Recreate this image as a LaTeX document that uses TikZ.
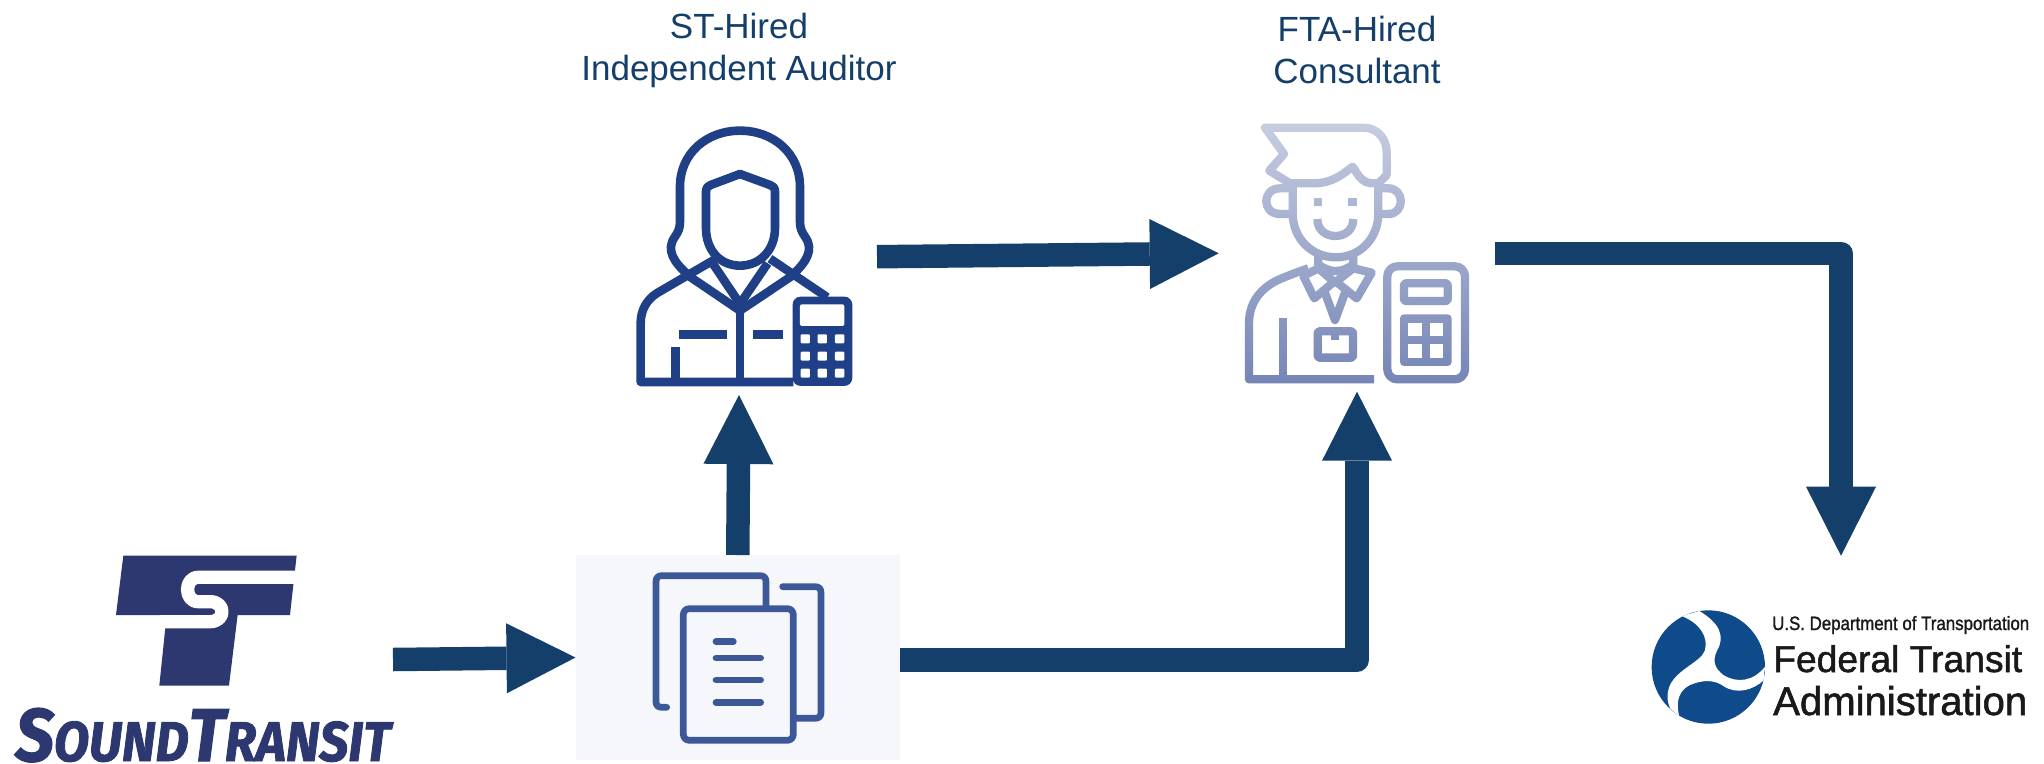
\documentclass[tikz,border=0pt]{standalone}
\usepackage{fontspec}
\setmainfont{Liberation Sans}
\newfontfamily\stfont[BoldItalicFeatures={FakeBold=1.6}]{Fira Sans}
\newfontfamily\ftafont[FakeBold=1.4]{Liberation Sans}
\usetikzlibrary{arrows.meta,fadings}
\definecolor{arrowblue}{HTML}{153F6B}
\definecolor{audblue}{HTML}{1F3F87}
\definecolor{docblue}{HTML}{3D5898}
\definecolor{docbg}{HTML}{F6F7FB}
\definecolor{stblue}{HTML}{2D3870}
\definecolor{ftablue}{HTML}{0F4A8A}
\definecolor{conblue}{HTML}{7484B5}
\tikzfading[name=icongrad, top color=transparent!39, bottom color=transparent!100]
\tikzset{
  region/.style={inner sep=0pt, outer sep=0pt, minimum width=#1},
  conn/.style={draw=arrowblue, line width=23.5pt, line join=round, -{Triangle[length=69pt,width=70pt,line width=0pt]}},
  title/.style={text=arrowblue, font=\fontsize{35}{42}\selectfont, align=center, inner sep=0pt},
  icona/.style={draw=audblue, line width=8.6pt, line join=round},
  iconc/.style={draw=conblue, line width=8.3pt, line join=round},
  icond/.style={draw=docblue, line width=6.7pt, line cap=round, line join=round},
}
\begin{document}
\begin{tikzpicture}[x=1pt,y=-1pt]
\useasboundingbox (0,0) rectangle (2044,763);
\fill[white] (0,0) rectangle (2044,763);

% region nodes
\node[region=380pt, minimum height=207pt] (st) at (203,659.5) {};
\node[region=324.5pt, minimum height=205pt, fill=docbg] (docs) at (737.75,657.5) {};
\node[region=276pt, minimum height=276.6pt] (aud) at (739,256.7) {};
\node[region=276.6pt, minimum height=276.7pt] (con) at (1357,253.3) {};
\node[region=380pt, minimum height=170pt] (fta) at (1841,640.7) {};

% titles
\node[title] (t1) at (739,50) {ST-Hired\\Independent Auditor};
\node[title] (t2) at (1357,50) {FTA-Hired\\Consultant};

% auditor icon
\begin{scope}[shift={(600,100)},x=0.3333pt,y=-0.3333pt]
\draw[icona] (262,522) .. controls (225,490) and (195,450) .. (225,410) .. controls (235,395) and (240,385) .. (240,365) -- (240,260) .. controls (240,160) and (320,92) .. (420,92) .. controls (520,92) and (600,160) .. (600,260) -- (600,365) .. controls (600,385) and (605,395) .. (615,410) .. controls (645,450) and (615,490) .. (580,522);
\draw[icona] (318,275) .. controls (318,262) and (325,258) .. (332,255) -- (420,222) -- (510,255) .. controls (518,258) and (525,262) .. (525,275) -- (525,385) .. controls (525,450) and (480,497) .. (420,497) .. controls (360,497) and (318,450) .. (318,385) -- cycle;
\draw[icona] (345,478) -- (170,580) .. controls (140,600) and (122,630) .. (122,670) -- (122,846) -- (580,846);
\draw[icona] (510,476) -- (682,592);
\draw[icona] (262,525) -- (420,632) -- (580,525);
\draw[icona] (338,490) -- (420,612) -- (503,490);
\draw[icona] (420,632) -- (420,846);
\draw[icona] (238,703) -- (382,703);
\draw[icona] (460,703) -- (550,703);
\draw[icona] (227,742) -- (227,846);
\fill[audblue,rounded corners=8pt] (578,590) rectangle (757,858);
\fill[white,rounded corners=2pt] (600,613) rectangle (733,678);
\foreach \yy in {703,755,806} \foreach \xx in {602,653,705}
  \fill[white,rounded corners=1pt] (\xx,\yy) rectangle ++(28,27);
\end{scope}

% consultant icon
\begin{scope}[shift={(1210,100)},x=0.3333pt,y=-0.3333pt]
\draw[iconc] (165,83) -- (460,83) .. controls (505,83) and (530,120) .. (530,155) -- (530,225) -- (505,250) -- (490,250) .. controls (455,250) and (445,225) .. (428,200) .. controls (395,225) and (365,250) .. (310,250) -- (240,250) -- (178,212) -- (222,162) -- cycle;
\draw[iconc] (248,265) -- (210,265) .. controls (155,265) and (155,342) .. (210,342) -- (248,342);
\draw[iconc] (510,265) -- (535,265) .. controls (585,265) and (585,342) .. (535,342) -- (510,342);
\draw[iconc] (248,250) -- (248,340) .. controls (248,415) and (305,472) .. (378,472) .. controls (450,472) and (505,415) .. (505,340) -- (505,240);
\fill[conblue] (312,293) rectangle (337,317);
\fill[conblue] (415,293) rectangle (440,317);
\draw[iconc] (322,357) .. controls (322,425) and (430,425) .. (430,357);
\draw[iconc] (325,465) -- (325,495) .. controls (345,505) and (355,513) .. (378,513) .. controls (400,513) and (410,505) .. (430,495) -- (430,465);
\draw[iconc] (280,528) -- (325,505) -- (372,545) -- (313,595) -- cycle;
\draw[iconc] (430,505) -- (485,518) -- (440,595) -- (378,545) -- cycle;
\draw[iconc] (340,565) -- (375,660) -- (410,565);
\draw[iconc,rounded corners=2pt] (323,694) rectangle (429,773);
\fill[conblue] (362,692) rectangle (388,720);
\draw[iconc] (295,505) .. controls (265,515) and (240,525) .. (215,535) .. controls (155,560) and (117,605) .. (117,670) -- (117,838) -- (492,838);
\draw[iconc] (220,655) -- (220,838);
\draw[iconc,rounded corners=10pt] (532,499) rectangle (765,838);
\draw[iconc,rounded corners=2pt] (582,550) rectangle (713,603);
\fill[conblue,rounded corners=4pt] (570,643) rectangle (725,798);
\foreach \xx/\yy in {595/668,660/668,595/733,660/733}
  \fill[white] (\xx,\yy) rectangle ++(40,40);
\end{scope}
\fill[white,path fading=icongrad] (1240,118) rectangle (1475,388);

% documents icon
\begin{scope}[shift={(570,550)},x=0.3333pt,y=-0.3333pt]
\draw[icond] (290,472) -- (275,472) .. controls (263,472) and (258,465) .. (258,455) -- (258,95) .. controls (258,83) and (265,77) .. (275,77) -- (570,77) .. controls (582,77) and (588,83) .. (588,95) -- (588,172);
\draw[icond] (638,110) -- (735,110) .. controls (747,110) and (753,116) .. (753,128) -- (753,488) .. controls (753,499) and (747,505) .. (735,505) -- (675,505);
\draw[icond,rounded corners=6pt] (340,176) rectangle (670,571);
\draw[icond] (438,275) -- (490,275);
\draw[icond] (438,324) -- (572,324);
\draw[icond] (438,390) -- (572,390);
\draw[icond] (438,457) -- (572,457);
\end{scope}

% Sound Transit logo
\begin{scope}[shift={(0,540)},x=0.3333pt,y=-0.3333pt]
\fill[stblue] (370,47) -- (890,47) -- (870,225) -- (713,225) -- (687,437) -- (478,437) -- (500,225) -- (348,225) -- cycle;
\draw[white,line width=13.3pt,line join=round] (900,112) -- (595,112) .. controls (552,112) and (552,185) .. (595,185) -- (630,185) .. controls (678,185) and (678,245) .. (630,245) -- (480,245);
\end{scope}
\node[anchor=base,inner sep=0pt,text=stblue,font=\stfont\bfseries\itshape] (stname) at (203,761)
  {\resizebox{375pt}{53pt}{\fontsize{80}{80}\selectfont S\fontsize{60}{60}\selectfont OUND\fontsize{80}{80}\selectfont T\fontsize{60}{60}\selectfont RANSIT}};

% FTA logo
\fill[ftablue] (1708.3,667) circle (56.7pt);
\begin{scope}
\clip (1708.3,667) circle (56.7pt);
\begin{scope}[shift={(1640,600)},x=0.3333pt,y=-0.3333pt]
\fill[white] (125,48) .. controls (180,70) and (205,110) .. (195,150) .. controls (185,185) and (115,205) .. (90,255) .. controls (80,280) and (80,300) .. (90,325) -- (118,350) .. controls (105,300) and (120,270) .. (150,255) .. controls (190,238) and (225,240) .. (250,258) .. controls (290,285) and (340,270) .. (372,240) -- (375,200) .. controls (340,245) and (290,250) .. (250,225) .. controls (225,205) and (215,185) .. (232,150) .. controls (255,110) and (240,70) .. (178,33) -- cycle;
\end{scope}
\end{scope}
\node[anchor=base west,inner sep=0pt,text=black!90] (f1) at (1772,630) {\resizebox{257pt}{14pt}{\ftafont\fontsize{36}{36}\selectfont U.S. Department of Transportation}};
\node[anchor=base west,inner sep=0pt,text=black!90] (f2) at (1773,672) {\resizebox{249pt}{!}{\ftafont\fontsize{36}{36}\selectfont Federal Transit}};
\node[anchor=base west,inner sep=0pt,text=black!90] (f3) at (1773,715) {\resizebox{254pt}{!}{\ftafont\fontsize{36}{36}\selectfont Administration}};

% connectors
\draw[conn] (st.east) -- (docs.west);
\draw[conn] (docs.north) -- (aud.south);
\draw[conn] (aud.east) -- (con.west);
\draw[conn] ([yshift=-2.5pt]docs.east) -| (con.south);
\draw[conn] (con.east) -| (fta.north);
\end{tikzpicture}
\end{document}
